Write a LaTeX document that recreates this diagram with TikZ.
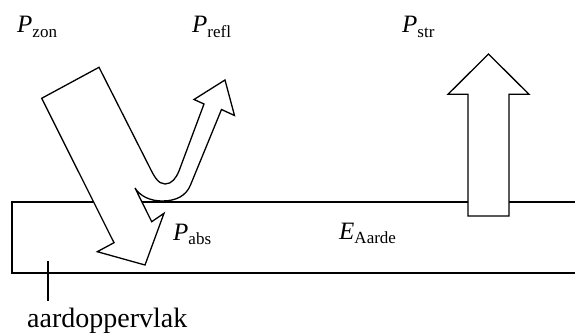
\documentclass[tikz,border=0pt]{standalone}
\usepackage{fontspec}
\setmainfont{Liberation Serif}
\usepackage{tikz}
\usetikzlibrary{positioning}

\newcommand{\flux}[2]{\textit{#1}\raisebox{-4.5pt}{\fontsize{17}{17}\selectfont #2}}

\begin{document}
\begin{tikzpicture}[x=1pt, y=-1pt,
      lbl/.style={anchor=base west, inner sep=0pt, font=\fontsize{25}{30}\selectfont},
      blockarrow/.style={draw, fill=white, line width=1.3pt, line join=miter},
      edge/.style={line width=1.3pt}]
    \useasboundingbox (0,0) rectangle (575,334);
    \draw[edge] (580,202) -- (12,202) -- (12,273) -- (580,273);
    \draw[blockarrow] (41.7,98.3) -- (99,67.3) -- (150,168)
      .. controls (154,176) and (158,184) .. (165,184)
      .. controls (172,184) and (176,178) .. (179,171)
      -- (204,104) -- (194,99.5) -- (225,80) -- (234.5,115.5) -- (221.5,109.5)
      -- (190.5,185) .. controls (186,196) and (176,201) .. (162,201)
      .. controls (150,201) and (140,196) .. (135,188)
      -- (151.7,221.7) -- (164,213.3) -- (145,265) -- (97.3,251.7) -- (114,242.7) -- cycle;
    \draw[blockarrow] (468,216) -- (468,94.3) -- (448,94.3) -- (488.5,54)
      -- (529,94.3) -- (509,94.3) -- (509,216) -- cycle;
    \node[lbl] (zon) at (17,33) {\flux{P}{zon}};
    \node[lbl] (refl) at (192,33) {\flux{P}{refl}};
    \node[lbl] (str) at (402,33) {\flux{P}{str}};
    \node[lbl] (abs) at (173,240) {\flux{P}{abs}};
    \node[lbl] (aarde) at (339,239) {\flux{E}{Aarde}};
    \node[lbl, font=\fontsize{28}{30}\selectfont] (opp) at (27,327) {aardoppervlak};
    \coordinate (tick) at (48,261);
    \draw[edge] (tick) -- ([yshift=6pt]tick |- opp.north);
  \end{tikzpicture}
\end{document}
